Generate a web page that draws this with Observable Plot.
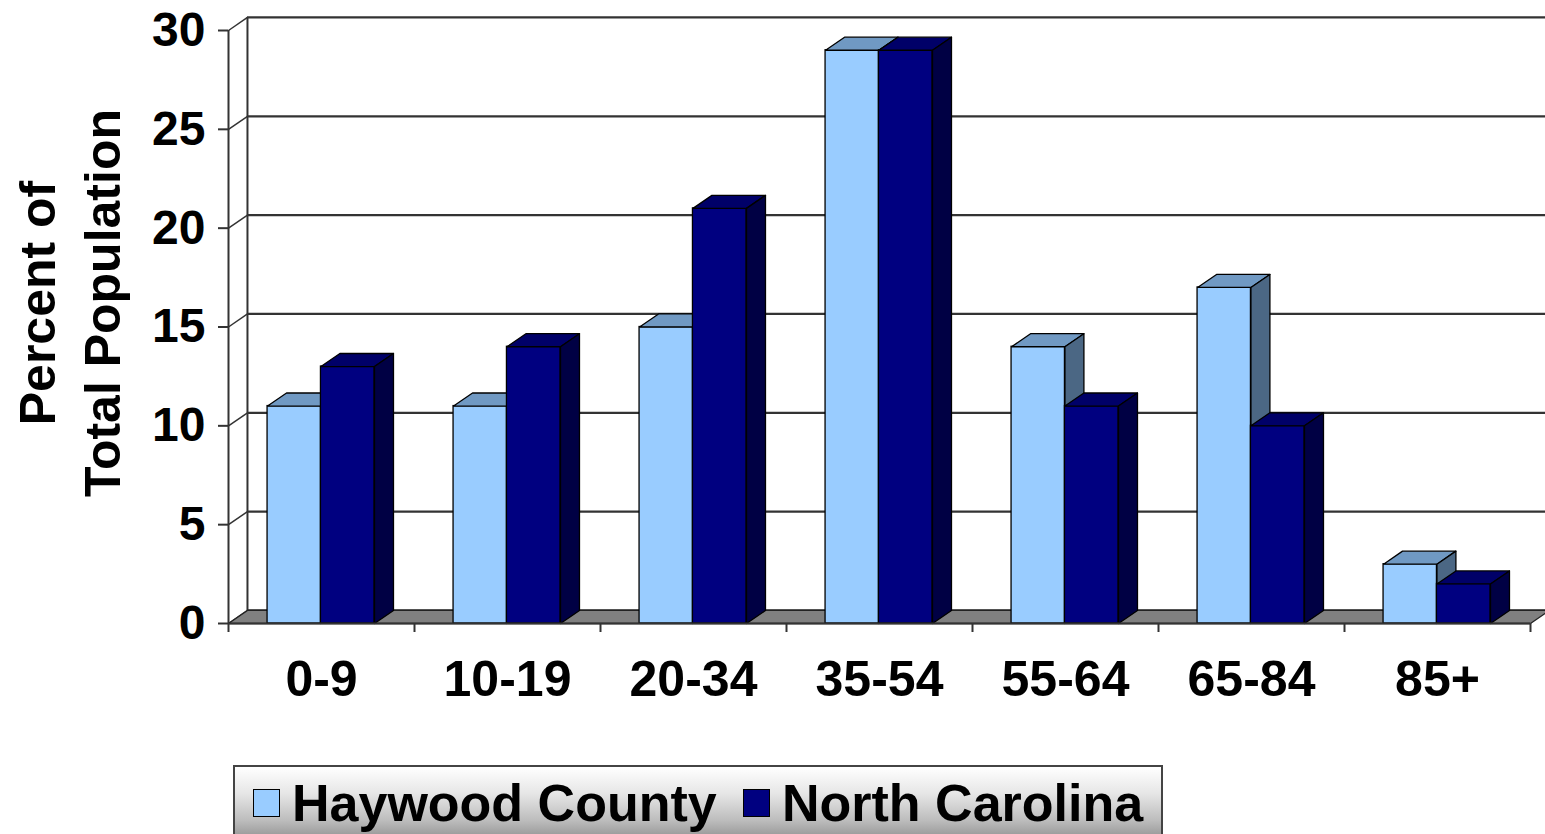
<!DOCTYPE html>
<html>
<head>
<meta charset="utf-8">
<script src="https://cdn.jsdelivr.net/npm/d3@7"></script>
<script src="https://cdn.jsdelivr.net/npm/@observablehq/plot@0.6"></script>
<style>
  html, body { margin: 0; padding: 0; background: #fff; overflow: hidden; }
  body { position: relative; width: 1545px; height: 834px; font-family: "Liberation Sans", Arial, sans-serif; }
  #chart svg { display: block; }
  #legend {
    position: absolute; left: 233px; top: 765px; width: 930px; height: 80px;
    border: 2px solid #444; box-sizing: border-box;
    background: linear-gradient(to bottom, #ffffff 0%, #e6e6e6 35%, #bdbdbd 70%, #8a8a8a 100%);
    font-weight: bold; font-size: 52px; color: #000;
  }
  .item { position: absolute; top: 6px; display: flex; align-items: center; height: 60px; white-space: nowrap; }
  .sw { width: 27px; height: 28px; border: 1.5px solid #000; margin-right: 12px; box-sizing: border-box; }
</style>
</head>
<body>
<div id="chart"></div>
<div id="legend"></div>
<script>
// ---- data ----
const categories = ["0-9", "10-19", "20-34", "35-54", "55-64", "65-84", "85+"];
const haywood = [11, 11, 15, 29, 14, 17, 3];
const northCarolina = [13, 14, 21, 29, 11, 10, 2];
const yTicks = [0, 5, 10, 15, 20, 25, 30];
const seriesNames = ["Haywood County", "North Carolina"];

// ---- styling constants ----
const colors = {
  "Haywood County": {front: "#99ccff", top: "#7099c3", side: "#4b6784"},
  "North Carolina": {front: "#000080", top: "#000068", side: "#000044"}
};
const DX = 0.102;   // depth offset in x units
const DY = 0.66;    // depth offset in y units
const slots = {"Haywood County": [0.21, 0.497], "North Carolina": [0.497, 0.785]};
const N = categories.length;

function barRows(name, values) {
  return values.map((v, i) => ({cat: categories[i], i, series: name, value: v,
    x1: i + slots[name][0], x2: i + slots[name][1]}));
}
function topPoly(rows) {
  return rows.flatMap(r => [
    {id: r.i, x: r.x1, y: r.value}, {id: r.i, x: r.x2, y: r.value},
    {id: r.i, x: r.x2 + DX, y: r.value + DY}, {id: r.i, x: r.x1 + DX, y: r.value + DY}
  ]);
}
function sidePoly(rows) {
  return rows.flatMap(r => [
    {id: r.i, x: r.x2, y: 0}, {id: r.i, x: r.x2 + DX, y: DY},
    {id: r.i, x: r.x2 + DX, y: r.value + DY}, {id: r.i, x: r.x2, y: r.value}
  ]);
}
const seriesRows = [barRows(seriesNames[0], haywood), barRows(seriesNames[1], northCarolina)];
const floor = [{x: 0, y: 0}, {x: N, y: 0}, {x: N + DX, y: DY}, {x: DX, y: DY}];

const barMarks = seriesRows.flatMap(rows => {
  const c = colors[rows[0].series];
  return [
    Plot.rect(rows, {x1: "x1", x2: "x2", y1: () => 0, y2: "value", fill: c.front, stroke: "#000", strokeWidth: 1.3}),
    Plot.line(topPoly(rows), {x: "x", y: "y", z: "id", curve: "linear-closed", fill: c.top, stroke: "#000", strokeWidth: 1.3}),
    Plot.line(sidePoly(rows), {x: "x", y: "y", z: "id", curve: "linear-closed", fill: c.side, stroke: "#000", strokeWidth: 1.3})
  ];
});

const chart = Plot.plot({
  width: 1545,
  height: 760,
  marginLeft: 228,
  marginRight: 15,
  marginTop: 30,
  marginBottom: 137,
  style: {fontFamily: "'Liberation Sans', Arial, sans-serif", fontWeight: "bold", color: "#000", background: "#fff", overflow: "visible"},
  x: {domain: [0, N]},
  y: {domain: [0, 30]},
  marks: [
    // back wall gridlines
    Plot.ruleY(yTicks, {y: d => d + DY, x1: () => DX, x2: () => N + DX + 0.2, stroke: "#333", strokeWidth: 2.2}),
    Plot.ruleX([DX], {y1: DY, y2: 30 + DY, stroke: "#333", strokeWidth: 2}),
    // side wall connectors
    Plot.link(yTicks, {x1: () => 0, y1: d => d, x2: () => DX, y2: d => d + DY, stroke: "#333", strokeWidth: 1.5}),
    Plot.ruleX([0], {y1: 0, y2: 30, stroke: "#333", strokeWidth: 2}),
    // floor
    Plot.line(floor, {x: "x", y: "y", curve: "linear-closed", fill: "#808080", stroke: "#222", strokeWidth: 1.3}),
    ...barMarks,
    // axes
    Plot.axisY({ticks: yTicks, tickSize: 10, tickPadding: 13, fontSize: 48, fontWeight: "bold", label: null, stroke: "#333", strokeWidth: 2}),
    Plot.axisX({ticks: d3.range(N + 1), tickSize: 9, tickFormat: () => "", label: null, stroke: "#333", strokeWidth: 2}),
    Plot.ruleY([0], {x1: 0, x2: N, stroke: "#333", strokeWidth: 2}),
    Plot.axisX({ticks: categories.map((_, i) => i + 0.5), tickFormat: d => categories[Math.floor(d)], tickSize: 0, tickPadding: 37, fontSize: 50, fontWeight: "bold", label: null}),
    // y title
    Plot.text(["Percent of\nTotal Population"], {frameAnchor: "left", textAnchor: "middle", lineAnchor: "middle", dx: -162, dy: -24, rotate: -90, fontSize: 50, fontWeight: "bold", lineHeight: 1.3, fill: "#000"})
  ]
});
document.getElementById("chart").appendChild(chart);

// legend
const legend = document.getElementById("legend");
const lefts = [18, 508];
seriesNames.forEach((name, k) => {
  const item = document.createElement("div");
  item.className = "item";
  item.style.left = lefts[k] + "px";
  const sw = document.createElement("span");
  sw.className = "sw";
  sw.style.background = colors[name].front;
  const label = document.createElement("span");
  label.textContent = name;
  item.appendChild(sw);
  item.appendChild(label);
  legend.appendChild(item);
});
</script>
</body>
</html>
